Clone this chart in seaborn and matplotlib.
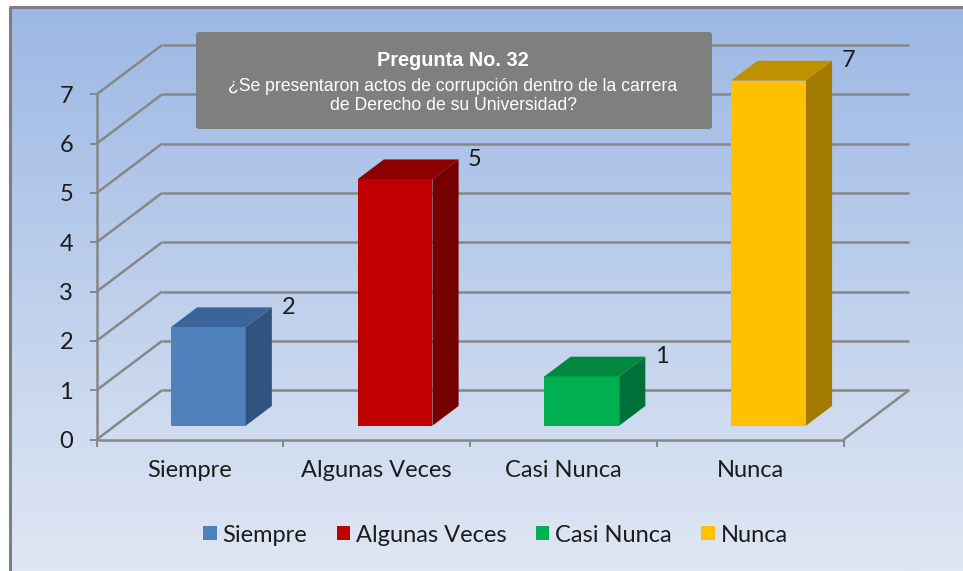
import numpy as np
import matplotlib
matplotlib.use("Agg")
import matplotlib.pyplot as plt
import seaborn as sns
import pandas as pd
from matplotlib.patches import Polygon, Patch, FancyBboxPatch

# ---------------- data ----------------
categories = ["Siempre", "Algunas Veces", "Casi Nunca", "Nunca"]
values = [2, 5, 1, 7]
y_ticks = [0, 1, 2, 3, 4, 5, 6, 7]
front_colors = ["#4F81BD", "#C00000", "#00B050", "#FFC000"]
top_colors = ["#3B659A", "#8C0000", "#00883F", "#BF9000"]
side_colors = ["#30537F", "#740000", "#00703A", "#A37B00"]
title_line1 = "Pregunta No. 32"
title_line2 = "¿Se presentaron actos de corrupción dentro de la carrera\nde Derecho de su Universidad?"

# ---------------- style ----------------
W, H = 963, 571
sns.set_theme(style="white")
body_font = ["Lato", "DejaVu Sans"]
title_font = ["Liberation Sans", "DejaVu Sans"]
plt.rcParams["font.family"] = body_font
txt_color = "#1c1c1c"
grid_color = "#878787"
FS = 17

fig = plt.figure(figsize=(W / 100, H / 100), dpi=100)

# background gradient + frame
bg = fig.add_axes([0, 0, 1, 1], zorder=-10)
bg.set_xlim(0, W)
bg.set_ylim(H, 0)
bg.axis("off")
top_rgb = np.array([156, 184, 228]) / 255
bot_rgb = np.array([224, 231, 244]) / 255
t = np.linspace(0, 1, 256)[:, None]
grad = (top_rgb[None, :] * (1 - t) + bot_rgb[None, :] * t)[:, None, :]
bg.imshow(grad, extent=(10, W, H, 8), aspect="auto", interpolation="bilinear")
bg.plot([9.5, 9.5], [H, 7], color="#7f7f7f", lw=2.2, solid_capstyle="butt")
bg.plot([8.5, W], [7, 7], color="#7f7f7f", lw=2.2, solid_capstyle="butt")

# ---------------- main axes ----------------
X0, X1 = 96.7, 909.0
Y0, Y1 = 439.5, 45.0
ax = fig.add_axes([X0 / W, 1 - Y0 / H, (X1 - X0) / W, (Y0 - Y1) / H])
ax.set_facecolor("none")

DX, DY = 0.35, 1.0      # depth of the back wall (in data units)
F0, FD = 0.28, 0.40     # bar front depth and bar depth (fractions of wall depth)

df = pd.DataFrame({"cat": categories, "val": values})
sns.barplot(data=df, x="cat", y="val", hue="cat", order=categories,
            hue_order=categories, palette=front_colors, width=0.4,
            saturation=1, legend=False, ax=ax, zorder=3, edgecolor="none",
            linewidth=0)

ax.set_xlim(-0.5, 3.5 + DX)
ax.set_ylim(0, 8)

gkw = dict(color=grid_color, lw=1.8, zorder=1, clip_on=False,
           solid_capstyle="butt")
for k in y_ticks:
    ax.plot([-0.5, -0.5 + DX], [k, k + DY], **gkw)
    ax.plot([-0.5 + DX, 3.5 + DX], [k + DY, k + DY], **gkw)
ax.plot([-0.5, 3.5], [0, 0], **gkw)
ax.plot([3.5, 3.5 + DX], [0, DY], **gkw)
ax.plot([-0.5, -0.5], [0, y_ticks[-1]], **gkw)

bdx, bdy = FD * DX, FD * DY
for p in ax.patches:
    i = int(round(p.get_x() + p.get_width() / 2))
    p.set_x(p.get_x() + F0 * DX)
    p.set_y(F0 * DY)
    x0 = p.get_x()
    x1 = x0 + p.get_width()
    b = p.get_y()
    top = b + p.get_height()
    ax.add_patch(Polygon([(x1, b), (x1 + bdx, b + bdy), (x1 + bdx, top + bdy), (x1, top)],
                         closed=True, fc=side_colors[i], ec="none", zorder=3))
    ax.add_patch(Polygon([(x0, top), (x0 + bdx, top + bdy), (x1 + bdx, top + bdy), (x1, top)],
                         closed=True, fc=top_colors[i], ec="none", zorder=3))
    ax.text(x1 + bdx + 0.088, top + bdy, str(values[i]), ha="center", va="center",
            fontsize=FS, color=txt_color, zorder=4)

for s in ax.spines.values():
    s.set_visible(False)
ax.set_xlabel("")
ax.set_ylabel("")
ax.set_yticks(y_ticks)
ax.set_yticklabels([str(v) for v in y_ticks])
ax.tick_params(axis="y", left=True, length=5, width=1.4, color=grid_color,
               pad=12, labelsize=FS, labelcolor=txt_color)
ax.set_xticks(range(len(categories)))
ax.set_xticklabels(categories)
ax.set_xticks(np.arange(-0.5, len(categories), 1.0), minor=True)
ax.tick_params(axis="x", which="major", bottom=False, length=0, pad=15,
               labelsize=FS, labelcolor=txt_color)
ax.tick_params(axis="x", which="minor", bottom=True, length=5, width=1.4,
               color=grid_color)

# ---------------- legend ----------------
handles = [Patch(facecolor=c, edgecolor="none") for c in front_colors]
fig.legend(handles, categories, loc="center", bbox_to_anchor=(495.5 / W, 1 - 535 / H),
           ncol=4, frameon=False, fontsize=FS, handlelength=0.56, handleheight=0.56,
           handletextpad=0.25, columnspacing=1.25, labelcolor=txt_color)

# ---------------- title box ----------------
ov = fig.add_axes([0, 0, 1, 1], zorder=5)
ov.set_xlim(0, W)
ov.set_ylim(H, 0)
ov.axis("off")
ov.add_patch(FancyBboxPatch((196, 32), 516, 97, boxstyle="round,pad=0,rounding_size=3",
                            fc="#7f7f7f", ec="none"))
ov.text(453, 61, title_line1, ha="center", va="center", color="white",
        fontweight="bold", fontsize=14.3, family=title_font)
ov.text(453, 96, title_line2, ha="center", va="center", color="white",
        fontsize=12.7, linespacing=1.12, family=title_font)

fig.savefig("out.png", dpi=100)
